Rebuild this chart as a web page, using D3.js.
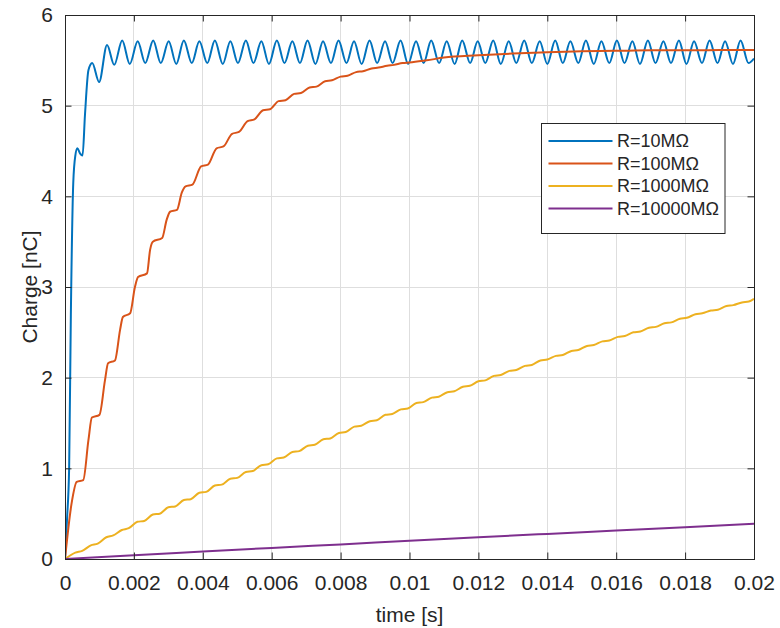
<!DOCTYPE html>
<html>
<head>
<meta charset="utf-8">
<script src="https://cdn.jsdelivr.net/npm/d3@7"></script>
<style>
  body { margin: 0; background: #fff; }
  svg { display: block; font-family: "Liberation Sans", Arial, Helvetica, sans-serif; }
</style>
</head>
<body>
<svg id="chart" width="780" height="628"></svg>
<script>
// 軸刻度
const xTicks = [0, 0.002, 0.004, 0.006, 0.008, 0.01, 0.012, 0.014, 0.016, 0.018, 0.02];
const xTickLabels = ["0", "0.002", "0.004", "0.006", "0.008", "0.01", "0.012", "0.014", "0.016", "0.018", "0.02"];
const yTicks = [0, 1, 2, 3, 4, 5, 6];
const xLabel = "time [s]";
const yLabel = "Charge [nC]";

// 圖例名稱
const seriesNames = ["R=10M\u03A9", "R=100M\u03A9", "R=1000M\u03A9", "R=10000M\u03A9"];

// R=10MΩ
const blueTime = [0, 0.00006, 0.00012, 0.00017, 0.00024, 0.00030, 0.00036, 0.00044, 0.00051, 0.00058, 0.00068, 0.00079, 0.00099, 0.00122, 0.00143,
  0.00166, 0.00188, 0.00211, 0.00233, 0.00256, 0.00278, 0.00301, 0.00323, 0.00345, 0.00368, 0.00390, 0.00413, 0.00435, 0.00458,
  0.00480, 0.00502, 0.00525, 0.00547, 0.00570, 0.00592, 0.00615, 0.00637, 0.00660, 0.00682, 0.00704, 0.00727, 0.00749, 0.00772,
  0.00794, 0.00817, 0.00839, 0.00861, 0.00884, 0.00906, 0.00929, 0.00951, 0.00974, 0.00996, 0.01019, 0.01041, 0.01063, 0.01086,
  0.01108, 0.01131, 0.01153, 0.01176, 0.01198, 0.01220, 0.01243, 0.01265, 0.01288, 0.01310, 0.01333, 0.01355, 0.01378, 0.01400,
  0.01423, 0.01445, 0.01467, 0.01490, 0.01512, 0.01535, 0.01557, 0.01580, 0.01602, 0.01624, 0.01647, 0.01669, 0.01692, 0.01714,
  0.01737, 0.01759, 0.01782, 0.01804, 0.01826, 0.01849, 0.01871, 0.01894, 0.01916, 0.01939, 0.01961, 0.01984, 0.02];
const blueCharge = [0, 0.45, 1.0, 2.7, 4.15, 4.45, 4.53, 4.47, 4.45, 4.9, 5.39, 5.47, 5.26, 5.67, 5.45,
  5.72, 5.46, 5.71, 5.47, 5.72, 5.47, 5.71, 5.46, 5.72, 5.47, 5.71, 5.47, 5.72, 5.46,
  5.71, 5.47, 5.72, 5.47, 5.71, 5.46, 5.72, 5.47, 5.71, 5.47, 5.72, 5.46, 5.71, 5.47,
  5.72, 5.47, 5.71, 5.46, 5.72, 5.47, 5.71, 5.47, 5.72, 5.46, 5.71, 5.47, 5.72, 5.47,
  5.71, 5.46, 5.72, 5.47, 5.71, 5.47, 5.72, 5.46, 5.71, 5.47, 5.72, 5.47, 5.71, 5.46,
  5.72, 5.47, 5.71, 5.47, 5.72, 5.46, 5.71, 5.47, 5.72, 5.47, 5.71, 5.46, 5.72, 5.47,
  5.71, 5.47, 5.72, 5.46, 5.71, 5.47, 5.72, 5.47, 5.71, 5.46, 5.72, 5.47, 5.52];

// R=100MΩ
const orangeTime = [0, 0.00019, 0.00034, 0.00053, 0.00068, 0.00078, 0.00100, 0.00116, 0.00125, 0.00145, 0.0016, 0.00168, 0.00189,
  0.00203, 0.00212, 0.00238, 0.00247, 0.00255, 0.00282, 0.00295, 0.00305, 0.00325, 0.00339, 0.0035, 0.0037,
  0.00395, 0.00415, 0.0044, 0.0046, 0.00485, 0.00505, 0.0053, 0.0055, 0.00575, 0.00595, 0.0062, 0.0064,
  0.00665, 0.00685, 0.0071, 0.0073, 0.00755, 0.00775, 0.008, 0.0082, 0.00845, 0.00865, 0.0089, 0.0091,
  0.00935, 0.00955, 0.0098, 0.0100, 0.0105, 0.011, 0.012, 0.013, 0.014, 0.015, 0.016, 0.017, 0.018, 0.019, 0.02];
const orangeCharge = [0, 0.61, 0.85, 0.87, 1.31, 1.56, 1.59, 1.97, 2.16, 2.19, 2.53, 2.67, 2.71,
  3.0, 3.11, 3.15, 3.41, 3.50, 3.54, 3.74, 3.83, 3.85, 4.04, 4.11, 4.13,
  4.33, 4.35, 4.53, 4.55, 4.69, 4.71, 4.83, 4.85, 4.95, 4.96, 5.05, 5.06,
  5.13, 5.14, 5.20, 5.21, 5.27, 5.28, 5.32, 5.33, 5.37, 5.38, 5.41, 5.42,
  5.44, 5.45, 5.47, 5.475, 5.50, 5.53, 5.555, 5.575, 5.59, 5.60, 5.605, 5.61, 5.61, 5.615, 5.615];

// R=1000MΩ
const yellowTime = [0, 0.0003, 0.0005, 0.00075, 0.00095, 0.0012, 0.0014, 0.00165, 0.00185, 0.0021, 0.0023, 0.00255, 0.00275,
  0.003, 0.0032, 0.00345, 0.00365, 0.0039, 0.0041, 0.00435, 0.00455, 0.0048, 0.005, 0.00525, 0.00545, 0.0057, 0.0059,
  0.00615, 0.00635, 0.0066, 0.0068, 0.00705, 0.00725, 0.0075, 0.0077, 0.00795, 0.00815, 0.0084, 0.0086, 0.00885, 0.00905,
  0.0093, 0.0095, 0.00975, 0.00995, 0.0102, 0.0104, 0.01065, 0.01085, 0.0111, 0.0113, 0.01155, 0.01175, 0.012, 0.0122,
  0.01245, 0.01265, 0.0129, 0.0131, 0.01335, 0.01355, 0.0138, 0.014, 0.01425, 0.01445, 0.0147, 0.0149, 0.01515, 0.01535,
  0.0156, 0.0158, 0.01605, 0.01625, 0.0165, 0.0167, 0.01695, 0.01715, 0.0174, 0.0176, 0.01785, 0.01805, 0.0183, 0.0185,
  0.01875, 0.01895, 0.0192, 0.0194, 0.01965, 0.01985, 0.02];
const yellowCharge = [0, 0.07, 0.09, 0.15, 0.17, 0.24, 0.26, 0.32, 0.34, 0.41, 0.42, 0.49, 0.50,
  0.57, 0.58, 0.65, 0.66, 0.73, 0.74, 0.81, 0.82, 0.885, 0.895, 0.96, 0.97, 1.035, 1.045,
  1.11, 1.12, 1.18, 1.19, 1.25, 1.26, 1.32, 1.33, 1.39, 1.40, 1.46, 1.47, 1.52, 1.53,
  1.59, 1.60, 1.65, 1.66, 1.72, 1.73, 1.78, 1.79, 1.84, 1.85, 1.90, 1.91, 1.96, 1.97,
  2.02, 2.03, 2.075, 2.085, 2.13, 2.14, 2.19, 2.20, 2.24, 2.25, 2.295, 2.305, 2.35, 2.36,
  2.40, 2.41, 2.45, 2.46, 2.50, 2.51, 2.55, 2.56, 2.60, 2.61, 2.65, 2.66, 2.70, 2.71,
  2.74, 2.75, 2.79, 2.80, 2.83, 2.84, 2.87];

// R=10000MΩ
const purpleTime = [0, 0.002, 0.004, 0.006, 0.008, 0.01, 0.012, 0.014, 0.016, 0.018, 0.02];
const purpleCharge = [0, 0.042, 0.082, 0.122, 0.161, 0.200, 0.239, 0.277, 0.314, 0.351, 0.39];

// MATLAB 預設顏色
const lineColors = ["#0072BD", "#D95319", "#EDB120", "#7E2F8E"];
const axisColor = "#262626";

const series = [
  [blueTime, blueCharge],
  [orangeTime, orangeCharge],
  [yellowTime, yellowCharge],
  [purpleTime, purpleCharge]
].map(([t, q], i) => ({ name: seriesNames[i], color: lineColors[i], points: t.map((v, j) => [v, q[j]]) }));

const margin = { top: 15, right: 26, bottom: 69, left: 65 };
const W = 780, H = 628;
const width = W - margin.left - margin.right;
const height = H - margin.top - margin.bottom;

const svg = d3.select("#chart");
const g = svg.append("g").attr("transform", `translate(${margin.left},${margin.top})`);

const x = d3.scaleLinear().domain([0, 0.02]).range([0, width]);
const y = d3.scaleLinear().domain([0, 6]).range([height, 0]);

// 格線
g.append("g").attr("class", "grid")
  .selectAll("line.gx").data(xTicks.slice(1, -1)).enter().append("line")
  .attr("x1", d => x(d)).attr("x2", d => x(d)).attr("y1", 0).attr("y2", height)
  .attr("stroke", "#dedede").attr("stroke-width", 1).attr("shape-rendering", "crispEdges");
g.select("g.grid")
  .selectAll("line.gy").data(yTicks.slice(1, -1)).enter().append("line")
  .attr("x1", 0).attr("x2", width).attr("y1", d => y(d)).attr("y2", d => y(d))
  .attr("stroke", "#dedede").attr("stroke-width", 1).attr("shape-rendering", "crispEdges");

// 曲線
g.append("clipPath").attr("id", "plotClip")
  .append("rect").attr("x", 0).attr("y", 0).attr("width", width).attr("height", height);

const line = d3.line()
  .x(d => x(d[0]))
  .y(d => y(d[1]))
  .curve(d3.curveMonotoneX);

g.append("g").attr("clip-path", "url(#plotClip)")
  .selectAll("path").data(series).enter().append("path")
  .attr("d", d => line(d.points))
  .attr("fill", "none")
  .attr("stroke", d => d.color)
  .attr("stroke-width", 2)
  .attr("stroke-linejoin", "round");

// 外框
g.append("rect")
  .attr("x", 0).attr("y", 0).attr("width", width).attr("height", height)
  .attr("fill", "none").attr("stroke", axisColor).attr("stroke-width", 1)
  .attr("shape-rendering", "crispEdges");

// 刻度
const tickLen = -6.5;
const bottomAxis = g.append("g").attr("transform", `translate(0,${height})`)
  .call(d3.axisBottom(x).tickValues(xTicks).tickFormat((d, i) => xTickLabels[i])
    .tickSizeInner(tickLen).tickSizeOuter(0).tickPadding(16));
const leftAxis = g.append("g")
  .call(d3.axisLeft(y).tickValues(yTicks).tickFormat(d3.format("d"))
    .tickSizeInner(tickLen).tickSizeOuter(0).tickPadding(12));
const topAxis = g.append("g")
  .call(d3.axisTop(x).tickValues(xTicks).tickFormat("").tickSizeInner(tickLen).tickSizeOuter(0));
const rightAxis = g.append("g").attr("transform", `translate(${width},0)`)
  .call(d3.axisRight(y).tickValues(yTicks).tickFormat("").tickSizeInner(tickLen).tickSizeOuter(0));

[bottomAxis, leftAxis, topAxis, rightAxis].forEach(a => {
  a.select(".domain").remove();
  a.selectAll(".tick line").attr("stroke", axisColor);
  a.selectAll(".tick text").attr("fill", axisColor).style("font-size", "21px")
    .style("font-family", "'Liberation Sans', Arial, Helvetica, sans-serif");
});

// 軸標題
g.append("text")
  .attr("x", width / 2).attr("y", height + 63)
  .attr("text-anchor", "middle")
  .attr("fill", axisColor).style("font-size", "21px")
  .text(xLabel);

g.append("text")
  .attr("transform", `translate(${37 - margin.left},${height / 2}) rotate(-90)`)
  .attr("text-anchor", "middle")
  .attr("fill", axisColor).style("font-size", "21px")
  .text(yLabel);

// 圖例
const legend = svg.append("g").attr("transform", "translate(541.5,123.5)");
legend.append("rect")
  .attr("width", 183.5).attr("height", 110)
  .attr("fill", "#fff").attr("stroke", axisColor).attr("stroke-width", 1);
const rows = legend.selectAll("g.row").data(series).enter().append("g")
  .attr("class", "row")
  .attr("transform", (d, i) => `translate(0,${17.5 + i * 22.5})`);
rows.append("line")
  .attr("x1", 7).attr("x2", 71).attr("y1", 0).attr("y2", 0)
  .attr("stroke", d => d.color).attr("stroke-width", 2);
rows.append("text")
  .attr("x", 75.5).attr("dy", "0.35em")
  .attr("fill", axisColor).style("font-size", "18px")
  .text(d => d.name);
</script>
</body>
</html>
